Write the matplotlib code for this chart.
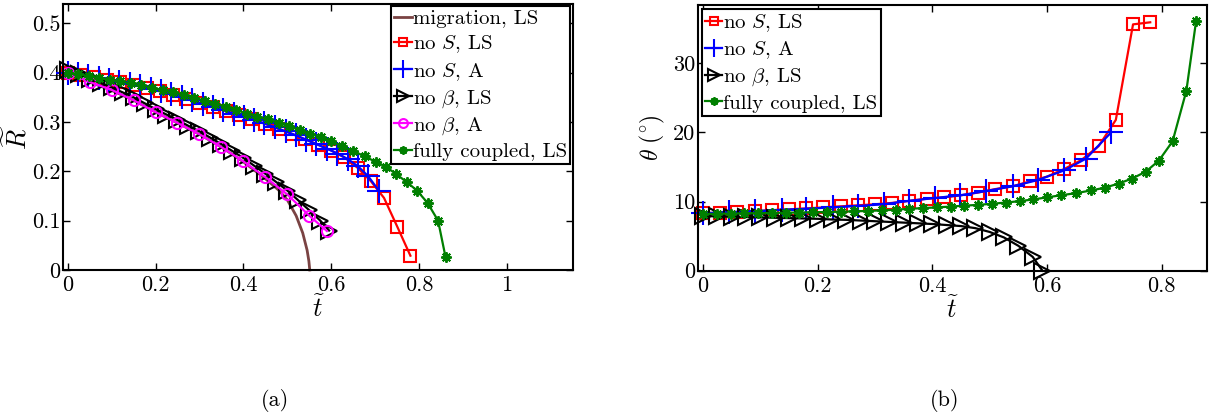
import matplotlib
matplotlib.use("Agg")
import matplotlib.pyplot as plt
from matplotlib.ticker import FixedLocator, FixedFormatter

plt.rcParams['font.family'] = 'serif'
plt.rcParams['font.serif'] = ['cmr10', 'DejaVu Serif']
plt.rcParams['mathtext.fontset'] = 'cm'
plt.rcParams['axes.formatter.use_mathtext'] = True

# ---------------- data: panel (a) ----------------
mig_t = [0, 0.05, 0.1, 0.15, 0.2, 0.25, 0.3, 0.35, 0.4, 0.45, 0.48, 0.5, 0.52, 0.535, 0.545, 0.549, 0.551]
mig_R = [0.400, 0.381, 0.364, 0.344, 0.320, 0.298, 0.275, 0.249, 0.219, 0.185, 0.162, 0.142, 0.110, 0.075, 0.040, 0.018, 0.0]

noS_LS_t = [0, 0.03, 0.06, 0.09, 0.12, 0.15, 0.18, 0.21, 0.24, 0.27, 0.30, 0.33, 0.36, 0.39,
            0.42, 0.45, 0.48, 0.51, 0.54, 0.57, 0.60, 0.63, 0.66, 0.69, 0.72, 0.75, 0.78]
noS_LS_R = [0.400, 0.396, 0.391, 0.386, 0.380, 0.375, 0.369, 0.362, 0.355, 0.347, 0.339, 0.331, 0.322, 0.314,
            0.305, 0.296, 0.286, 0.276, 0.265, 0.254, 0.242, 0.228, 0.207, 0.180, 0.146, 0.088, 0.029]

noS_A_t = [0, 0.024, 0.047, 0.071, 0.094, 0.118, 0.142, 0.165, 0.189, 0.212, 0.236, 0.260, 0.283, 0.307,
           0.330, 0.354, 0.378, 0.401, 0.425, 0.448, 0.472, 0.496, 0.519, 0.543, 0.566, 0.590, 0.614,
           0.637, 0.661, 0.684, 0.708]
noS_A_R = [0.400, 0.397, 0.393, 0.389, 0.385, 0.380, 0.376, 0.372, 0.367, 0.362, 0.356, 0.350, 0.344, 0.337,
           0.331, 0.324, 0.317, 0.311, 0.304, 0.297, 0.289, 0.281, 0.273, 0.264, 0.255, 0.246, 0.236,
           0.225, 0.210, 0.190, 0.161]

nob_LS_t = [0, 0.025, 0.05, 0.075, 0.1, 0.125, 0.15, 0.175, 0.2, 0.225, 0.25, 0.275, 0.3, 0.325,
            0.35, 0.375, 0.4, 0.425, 0.45, 0.475, 0.5, 0.525, 0.55, 0.575, 0.595]
nob_LS_R = [0.405, 0.397, 0.388, 0.379, 0.370, 0.360, 0.350, 0.338, 0.326, 0.315, 0.304, 0.292, 0.281, 0.268,
            0.255, 0.241, 0.227, 0.211, 0.195, 0.178, 0.161, 0.141, 0.121, 0.100, 0.080]

nob_A_t = [0, 0.05, 0.1, 0.15, 0.2, 0.25, 0.3, 0.35, 0.4, 0.45, 0.5, 0.55, 0.59]
nob_A_R = [0.400, 0.381, 0.365, 0.344, 0.320, 0.298, 0.275, 0.249, 0.220, 0.188, 0.153, 0.110, 0.079]

full_t = [0, 0.024, 0.048, 0.072, 0.096, 0.12, 0.144, 0.168, 0.192, 0.216, 0.24, 0.264, 0.288, 0.312,
          0.336, 0.36, 0.384, 0.408, 0.432, 0.456, 0.48, 0.504, 0.528, 0.552, 0.576, 0.60, 0.624, 0.65,
          0.677, 0.701, 0.725, 0.748, 0.772, 0.795, 0.819, 0.843, 0.860]
full_R = [0.400, 0.397, 0.393, 0.389, 0.386, 0.382, 0.378, 0.374, 0.369, 0.365, 0.360, 0.355, 0.349, 0.343,
          0.337, 0.331, 0.324, 0.317, 0.311, 0.305, 0.298, 0.291, 0.284, 0.276, 0.269, 0.261, 0.251, 0.241,
          0.230, 0.219, 0.209, 0.194, 0.178, 0.161, 0.136, 0.100, 0.026]

# ---------------- data: panel (b) ----------------
th_noS_LS = [8.3, 8.4, 8.5, 8.6, 8.75, 8.85, 9.0, 9.15, 9.3, 9.45, 9.6, 9.8, 10.1, 10.4,
             10.6, 10.9, 11.3, 11.8, 12.2, 12.9, 13.6, 14.7, 16.0, 18.0, 21.8, 35.6, 35.9]

th_noS_A_t = [0, 0.045, 0.09, 0.137, 0.18, 0.226, 0.27, 0.315, 0.36, 0.404, 0.449, 0.493, 0.54,
              0.584, 0.63, 0.668, 0.712]
th_noS_A = [8.3, 8.45, 8.6, 8.8, 8.95, 9.15, 9.35, 9.6, 10.1, 10.5, 10.9, 11.5, 12.2,
            13.1, 14.5, 16.2, 20.0]

th_nob_t = [0, 0.025, 0.05, 0.075, 0.1, 0.125, 0.15, 0.175, 0.2, 0.225, 0.25, 0.275, 0.3, 0.325,
            0.35, 0.375, 0.4, 0.425, 0.45, 0.475, 0.5, 0.525, 0.55, 0.575, 0.592]
th_nob = [7.9, 7.85, 7.8, 7.75, 7.7, 7.65, 7.6, 7.55, 7.5, 7.4, 7.35, 7.25, 7.15, 7.05,
          6.95, 6.85, 6.75, 6.6, 6.45, 6.15, 5.6, 4.8, 3.6, 2.0, 0.0]

th_full = [8.2, 8.23, 8.26, 8.29, 8.32, 8.35, 8.38, 8.41, 8.45, 8.49, 8.53, 8.58, 8.64, 8.72,
           8.82, 8.95, 9.05, 9.15, 9.27, 9.4, 9.52, 9.67, 9.85, 10.05, 10.3, 10.6, 10.9, 11.2,
           11.6, 12.0, 12.6, 13.3, 14.3, 15.9, 18.7, 26.0, 36.1]

# ticks
xt_a = [0, 0.2, 0.4, 0.6, 0.8, 1.0]
xt_a_lab = ['0', '0.2', '0.4', '0.6', '0.8', '1']
yt_a = [0, 0.1, 0.2, 0.3, 0.4, 0.5]
yt_a_lab = ['0', '0.1', '0.2', '0.3', '0.4', '0.5']
xt_b = [0, 0.2, 0.4, 0.6, 0.8]
xt_b_lab = ['0', '0.2', '0.4', '0.6', '0.8']
yt_b = [0, 10, 20, 30]
yt_b_lab = ['0', '10', '20', '30']

# ---------------- styles ----------------
BROWN = '#7a4343'
GREEN = '#007f00'
LW = 1.6
MEW = 1.5
st_mig = dict(color=BROWN, lw=2.0)
st_noS_LS = dict(color='red', lw=LW, marker='s', ms=8, mfc='none', mew=MEW)
st_noS_A = dict(color='blue', lw=LW, marker='+', ms=17, mew=MEW)
st_nob_LS = dict(color='black', lw=LW, marker='>', ms=11, mfc='none', mew=MEW)
st_nob_A = dict(color='magenta', lw=LW, marker='o', ms=8, mfc='none', mew=MEW)
st_full = dict(color=GREEN, lw=LW, marker=(8, 2, 0), ms=7.5, mew=1.4)

W, H = 1212, 412
fig = plt.figure(figsize=(W / 100, H / 100), dpi=100)
ax1 = fig.add_axes([63 / W, (H - 270) / H, 510 / W, 266 / H])
ax2 = fig.add_axes([698 / W, (H - 270.7) / H, 509 / W, 265.7 / H])

ax1.plot(mig_t, mig_R, label='migration, LS', clip_on=False, **st_mig)
ax1.plot(noS_LS_t, noS_LS_R, label='no $S$, LS', clip_on=False, **st_noS_LS)
ax1.plot(noS_A_t, noS_A_R, label='no $S$, A', clip_on=False, **st_noS_A)
ax1.plot(nob_LS_t, nob_LS_R, label=r'no $\beta$, LS', clip_on=False, **st_nob_LS)
ax1.plot(nob_A_t, nob_A_R, label=r'no $\beta$, A', clip_on=False, **st_nob_A)
ax1.plot(full_t, full_R, label='fully coupled, LS', clip_on=False, **st_full)

ax2.plot(noS_LS_t, th_noS_LS, label='no $S$, LS', clip_on=False, **st_noS_LS)
ax2.plot(th_noS_A_t, th_noS_A, label='no $S$, A', clip_on=False, **st_noS_A)
ax2.plot(th_nob_t, th_nob, label=r'no $\beta$, LS', clip_on=False, **st_nob_LS)
ax2.plot(full_t, th_full, label='fully coupled, LS', clip_on=False, **st_full)

ax1.set_xlim(-0.0105, 1.15)
ax1.set_ylim(0, 0.539)
ax2.set_xlim(-0.0087, 0.879)
ax2.set_ylim(0, 38.4)

for ax, xt, xl, yt, yl in [(ax1, xt_a, xt_a_lab, yt_a, yt_a_lab), (ax2, xt_b, xt_b_lab, yt_b, yt_b_lab)]:
    ax.xaxis.set_major_locator(FixedLocator(xt))
    ax.xaxis.set_major_formatter(FixedFormatter(xl))
    ax.yaxis.set_major_locator(FixedLocator(yt))
    ax.yaxis.set_major_formatter(FixedFormatter(yl))
    ax.tick_params(direction='in', top=True, right=True, length=5, width=1, labelsize=16)
    ax.tick_params(axis='x', pad=4)
    ax.tick_params(axis='y', pad=2)
    for sp in ax.spines.values():
        sp.set_linewidth(1.5)
    ax.set_xlabel(r'$\widetilde{t}$', fontsize=19)
    ax.xaxis.set_label_coords(0.5, -0.094)

ax1.set_ylabel(r'$\widetilde{R}$', fontsize=19)
ax1.yaxis.set_label_coords(-0.061, 0.5)
ax2.set_ylabel(r'$\theta\ (^{\circ})$', fontsize=17)
ax2.yaxis.set_label_coords(-0.061, 0.5)

leg_kw = dict(fontsize=15, handlelength=0.85, handletextpad=0.05, labelspacing=0.27,
              borderpad=0.15, borderaxespad=0, fancybox=False, framealpha=1,
              edgecolor='black', markerscale=0.8)
lg1 = ax1.legend(loc='upper right', bbox_to_anchor=(0.994, 0.992), **leg_kw)
lg2 = ax2.legend(loc='upper left', bbox_to_anchor=(0.007, 0.985), **leg_kw)
for lg in (lg1, lg2):
    lg.get_frame().set_linewidth(1.5)

fig.text(275 / W, 1 - 400 / H, '(a)', ha='center', va='center', fontsize=16)
fig.text(945 / W, 1 - 400 / H, '(b)', ha='center', va='center', fontsize=16)

fig.savefig('out.png', dpi=100)
